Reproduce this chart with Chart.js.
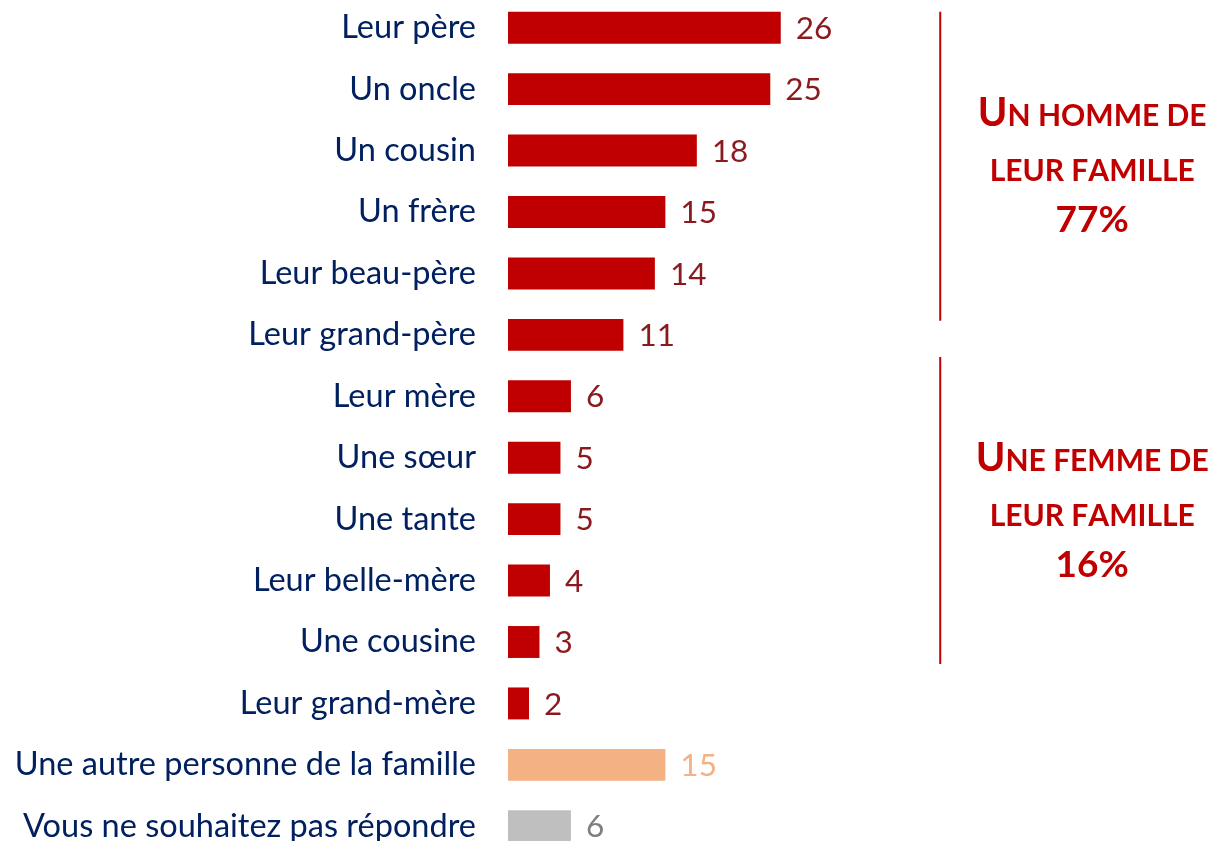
<!DOCTYPE html>
<html>
<head>
<meta charset="utf-8">
<script src="https://cdn.jsdelivr.net/npm/chart.js@4/dist/chart.umd.min.js"></script>
<style>
    html, body { margin: 0; padding: 0; background: #ffffff; overflow: hidden; }
    #wrap { position: absolute; left: 0; top: -3px; width: 1213px; height: 860px; }
</style>
</head>
<body>
<div id="wrap"><canvas id="chart-1"></canvas></div>
<script>
// qui sont les personnes de la famille
var categories = ["Leur père", "Un oncle", "Un cousin", "Un frère", "Leur beau-père", "Leur grand-père",
    "Leur mère", "Une sœur", "Une tante", "Leur belle-mère", "Une cousine", "Leur grand-mère",
    "Une autre personne de la famille", "Vous ne souhaitez pas répondre"];
var values = [26, 25, 18, 15, 14, 11, 6, 5, 5, 4, 3, 2, 15, 6];

// groupes a droite
var groupTitles = ["Un homme de leur famille", "Une femme de leur famille"];
var groupShares = [77, 16];

var rouge = "#c00000";
var barColors = values.map(function (v, i) {
    if (i < 12) return rouge;
    if (i == 12) return "#f4b183";
    return "#bfbfbf";
});
var labelColors = values.map(function (v, i) {
    if (i < 12) return "#8b1a1e";
    if (i == 12) return "#f4b183";
    return "#7f7f7f";
});

// valeurs au bout des barres
var valueLabels = {
    id: "valueLabels",
    afterDatasetsDraw: function (chart) {
        var ctx = chart.ctx;
        var meta = chart.getDatasetMeta(0);
        ctx.save();
        ctx.font = "31.5px Lato";
        ctx.textBaseline = "middle";
        ctx.textAlign = "left";
        meta.data.forEach(function (bar, i) {
            ctx.fillStyle = labelColors[i];
            ctx.fillText(values[i], bar.x + 15, bar.y + 1);
        });
        ctx.restore();
    }
};

// petites capitales a la main
function drawSmallCaps(ctx, text, cx, y, big, small) {
    var parts = [];
    text.split(" ").forEach(function (w, k) {
        if (k > 0) parts.push({ t: " ", f: "bold " + small + "px Lato" });
        var first = w.charAt(0);
        var rest = w.slice(1);
        if (first == first.toUpperCase() && first != first.toLowerCase()) {
            parts.push({ t: first, f: "bold " + big + "px Lato" });
        } else {
            parts.push({ t: first.toUpperCase(), f: "bold " + small + "px Lato" });
        }
        if (rest) parts.push({ t: rest.toUpperCase(), f: "bold " + small + "px Lato" });
    });
    var total = 0;
    parts.forEach(function (p) {
        ctx.font = p.f;
        p.w = ctx.measureText(p.t).width;
        total += p.w;
    });
    var x = cx - total / 2;
    ctx.textAlign = "left";
    parts.forEach(function (p) {
        ctx.font = p.f;
        ctx.fillText(p.t, x, y);
        x += p.w;
    });
}

var groupNotes = {
    id: "groupNotes",
    afterDraw: function (chart) {
        var ctx = chart.ctx;
        var yScale = chart.scales.y;
        var xScale = chart.scales.x;
        var lineSpans = [[-0.26, 4.77], [5.36, 10.36]];
        var lineX = xScale.getPixelForValue(41.2);
        var textX = lineX + 152;
        ctx.save();
        ctx.fillStyle = rouge;
        ctx.strokeStyle = rouge;
        ctx.lineWidth = 2;
        ctx.textBaseline = "alphabetic";
        for (var g = 0; g < groupTitles.length; g++) {
            var yTop = yScale.getPixelForValue(lineSpans[g][0]);
            var yBot = yScale.getPixelForValue(lineSpans[g][1]);
            ctx.beginPath();
            ctx.moveTo(lineX, yTop);
            ctx.lineTo(lineX, yBot);
            ctx.stroke();

            var mid = (yTop + yBot) / 2;
            // coupe le titre en deux lignes
            var mots = groupTitles[g].split(" ");
            var l1 = mots.slice(0, mots.length - 2).join(" ");
            var l2 = mots.slice(mots.length - 2).join(" ");
            drawSmallCaps(ctx, l1, textX, mid - 40, 40, 30);
            drawSmallCaps(ctx, l2, textX, mid + 15, 40, 30);
            ctx.font = "bold 37px Lato";
            ctx.textAlign = "center";
            ctx.fillText(groupShares[g] + "%", textX, mid + 66);
        }
        ctx.restore();
    }
};

var ctx = document.getElementById("chart-1").getContext("2d");
var chart = new Chart(ctx, {
    type: "bar",
    data: {
        labels: categories,
        datasets: [{
            data: values,
            backgroundColor: barColors,
            borderWidth: 0,
            categoryPercentage: 1,
            barPercentage: 0.52
        }]
    },
    options: {
        indexAxis: "y",
        responsive: true,
        maintainAspectRatio: false,
        animation: false,
        layout: { padding: 0 },
        scales: {
            x: {
                display: false,
                min: 0,
                max: 67.2
            },
            y: {
                grid: { display: false, drawTicks: false },
                border: { display: false },
                ticks: {
                    color: "#002060",
                    padding: 32,
                    font: { family: "Lato", size: 32.5 }
                },
                afterFit: function (scale) {
                    scale.width = 508;
                    scale.paddingTop = 0;
                    scale.paddingBottom = 0;
                }
            }
        },
        plugins: {
            legend: { display: false },
            tooltip: { enabled: false }
        }
    },
    plugins: [valueLabels, groupNotes]
});
</script>
</body>
</html>
